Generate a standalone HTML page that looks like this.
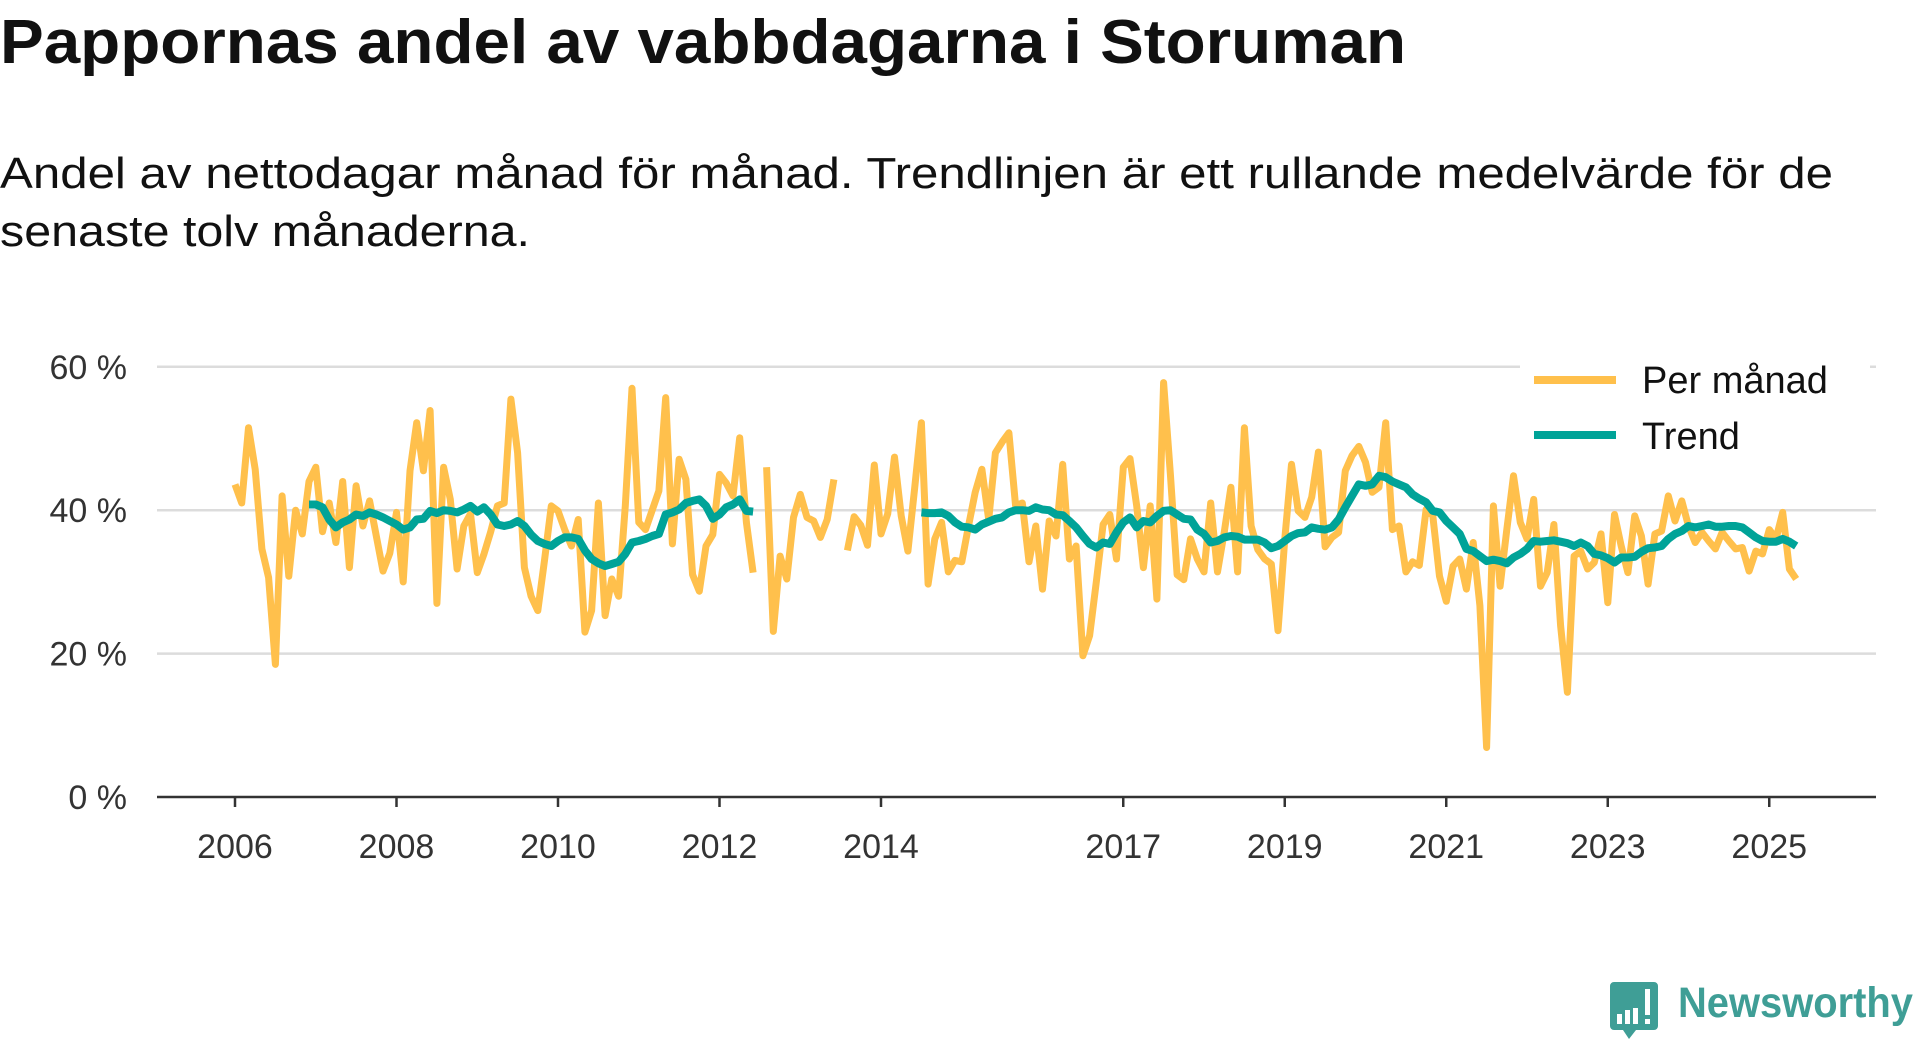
<!DOCTYPE html>
<html><head><meta charset="utf-8">
<style>
html,body{margin:0;padding:0;background:#fff;}
body{width:1920px;height:1040px;overflow:hidden;}
svg{display:block;font-family:"Liberation Sans","DejaVu Sans",sans-serif;}
</style></head>
<body>
<svg id="chart" width="1920" height="1040" viewBox="0 0 1920 1040">
  <text x="0" y="63" font-size="62" font-weight="bold" fill="#111" textLength="1406" lengthAdjust="spacingAndGlyphs">Pappornas andel av vabbdagarna i Storuman</text>
  <text x="0" y="188" font-size="44" fill="#111" textLength="1833" lengthAdjust="spacingAndGlyphs">Andel av nettodagar månad för månad. Trendlinjen är ett rullande medelvärde för de</text>
  <text x="0" y="246" font-size="44" fill="#111" textLength="530" lengthAdjust="spacingAndGlyphs">senaste tolv månaderna.</text>
  <g id="grid"></g>
  <g id="yaxis"></g>
  <g id="xaxis"></g>
  <g id="series"></g>
  <g id="legend">
    <rect x="1520" y="352" width="350" height="112" fill="#fff"/>
    <line x1="1534" y1="380" x2="1616" y2="380" stroke="#ffc04c" stroke-width="8"/>
    <text x="1642" y="393" font-size="38" fill="#111">Per månad</text>
    <line x1="1534" y1="435" x2="1616" y2="435" stroke="#00a398" stroke-width="8"/>
    <text x="1642" y="449" font-size="38" fill="#111">Trend</text>
  </g>
  <g>
    <path d="M1614 982 h40 a4 4 0 0 1 4 4 v40 a4 4 0 0 1 -4 4 h-18 l-7 9 l-6 -9 h-9 a4 4 0 0 1 -4 -4 v-40 a4 4 0 0 1 4 -4 z" fill="#3f9e96"/>
    <rect x="1617" y="1014" width="5" height="10" fill="#fff"/>
    <rect x="1625" y="1010" width="5" height="14" fill="#fff"/>
    <rect x="1633" y="1008" width="5" height="16" fill="#fff"/>
    <rect x="1645" y="989" width="5" height="26" fill="#fff"/>
    <rect x="1645" y="1019" width="5" height="5" fill="#fff"/>
    <text x="1678" y="1017" font-size="43" font-weight="bold" fill="#3f9e96" textLength="235" lengthAdjust="spacingAndGlyphs">Newsworthy</text>
  </g>
</svg>
<script>
// ---- data ----
const startYear = 2006;
const yTicks = [0, 20, 40, 60];
const yTickLabels = ["0 %", "20 %", "40 %", "60 %"];
const xTicks = [2006, 2008, 2010, 2012, 2014, 2017, 2019, 2021, 2023, 2025];
const xTickLabels = ["2006", "2008", "2010", "2012", "2014", "2017", "2019", "2021", "2023", "2025"];
const monthlyValues = [
43.6,41,51.5,45.7,34.6,30.6,18.5,42,30.8,40,36.7,44,
46,37,41,35.5,44,32,43.4,37.8,41.3,36.4,31.5,34,
39.7,30,45.5,52.2,45.5,53.9,27,46,41.5,31.8,37.8,39.5,
31.3,33.9,37,40.6,41,55.5,48,32,28,26,33,40.6,
39.9,37.3,35,38.7,23,26,41,25.3,30.4,28,40.6,57,
38.3,37.3,40,42.7,55.7,35.3,47.1,44.3,31,28.7,35,36.6,
45,43.8,42,50.1,38.3,31.3,null,
46,23.1,33.6,30.4,39,42.2,39,38.5,36.2,38.7,44.3,null,
34.4,39.1,37.9,35.1,46.3,36.7,39.5,47.4,39.2,34.3,43,52.2,
29.7,36,38.3,31.4,33,32.8,37.8,42.5,45.7,38.7,48,49.5,50.8,
40.6,41,32.8,37.8,29,38.5,36.4,46.4,33.2,35,19.7,22.5,
30,38,39.4,33.2,46,47.2,40.6,32,40.6,27.6,57.8,45,31,30.3,36,33.2,31.4,41,31.4,36.9,43.2,31.4,51.5,37.8,34.5,33.2,32.5,23.2,36,46.4,39.9,39,41.8,48.1,34.9,36.2,36.9,45.5,47.6,48.9,46.7,42.5,43.2,52.2,37.3,37.8,31.4,32.8,32.3,40.1,39.2,30.8,
27.3,32.2,33.2,29,35.5,26.7,6.9,40.6,29.4,37.3,44.8,38.3,36,41.5,29.4,31.3,38,23.9,14.6,33.6,34.3,31.8,32.7,36.7,27.1,39.4,35,31.3,39.2,36.4,29.7,36.7,37.1,42,38.5,41.3,37.8,35.5,36.9,35.7,34.6,36.9,35.7,34.6,34.8,31.5,34.3,33.9,37.3,36,39.7,31.8,30.4
];
const trendValues = [
null,null,null,null,null,null,null,null,null,null,null,
40.8,40.8,40.4,38.7,37.6,38.3,38.7,39.4,39.2,39.7,39.4,39,38.5,38,37.3,37.6,38.7,38.8,39.9,39.6,40,39.9,39.7,40.1,40.6,39.8,40.4,39.4,38,37.8,38,38.5,37.8,36.6,35.7,35.3,35,35.7,36.2,36.2,36,34.4,33.2,32.6,32.2,32.5,32.8,33.9,35.5,35.7,
36,36.4,36.7,39.4,39.7,40.1,41,41.3,41.5,40.6,38.8,39.4,40.4,40.8,41.5,39.9,39.8,
null,null,null,null,null,null,null,null,null,null,null,null,null,null,null,null,null,null,null,null,null,null,null,null,
39.7,39.6,39.6,39.7,39.2,38.3,37.7,37.6,37.3,38,38.4,38.8,39,39.7,40,40,39.9,40.4,
40.1,40,39.4,39.3,38.5,37.6,36.4,35.3,34.8,35.5,35.3,36.9,38.3,39,37.6,38.5,38.3,39.2,39.9,40,39.4,38.8,38.7,37.3,36.7,35.5,35.7,36.2,36.4,36.3,35.9,35.9,35.9,35.5,34.7,35,35.7,36.4,36.8,36.9,37.6,37.4,37.3,37.6,38.7,40.4,42,43.6,43.4,43.6,44.8,44.6,44,43.6,43.2,42.2,41.6,41.1,39.9,
39.7,38.5,37.6,36.7,34.6,34.3,33.6,32.9,33.1,32.9,32.6,33.4,33.9,34.6,35.7,35.6,35.7,35.8,35.6,35.4,35,35.5,35,33.9,33.7,33.3,32.7,33.4,33.4,33.5,34.2,34.7,34.8,35,36,36.7,37.1,37.8,37.6,37.8,38,37.7,37.7,37.8,37.8,37.6,36.9,36.2,35.7,35.6,35.6,36,35.6,35
];

// ---- scales ----
const X0 = 235, PX_PER_YEAR = 80.75;
const Y0 = 797, PX_PER_PCT = 7.17;
const PLOT_L = 157, PLOT_R = 1876;
function xScale(t){ return X0 + (t - startYear) * PX_PER_YEAR; }
function yScale(v){ return Y0 - v * PX_PER_PCT; }
const NS = "http://www.w3.org/2000/svg";
function mk(tag, attrs, parent){
  const el = document.createElementNS(NS, tag);
  for (const k in attrs) el.setAttribute(k, attrs[k]);
  parent.appendChild(el);
  return el;
}
const grid = document.getElementById("grid");
const yaxis = document.getElementById("yaxis");
const xaxis = document.getElementById("xaxis");
const series = document.getElementById("series");

yTicks.forEach((v, i) => {
  if (v !== 0) {
    const g = mk("line", {x1: PLOT_L, x2: PLOT_R, y1: yScale(v), y2: yScale(v), stroke: "#dcdcdc", "stroke-width": 2.5}, grid);
    
    
  }
  const t = mk("text", {x: 127, y: yScale(v) + 12, "font-size": 34, fill: "#333", "text-anchor": "end"}, yaxis);
  t.textContent = yTickLabels[i];
  
  
});
const axisLine = mk("line", {x1: PLOT_L, x2: PLOT_R, y1: Y0, y2: Y0, stroke: "#333", "stroke-width": 2.5}, xaxis);


xTicks.forEach((yr, i) => {
  const tk = mk("line", {x1: xScale(yr), x2: xScale(yr), y1: Y0, y2: Y0 + 10, stroke: "#333", "stroke-width": 2.5}, xaxis);
  
  
  const t = mk("text", {x: xScale(yr), y: 858, "font-size": 34, fill: "#333", "text-anchor": "middle"}, xaxis);
  t.textContent = xTickLabels[i];
  
  
});

function buildPath(vals){
  let d = "", pen = false;
  vals.forEach((v, i) => {
    if (v === null || v === undefined) { pen = false; return; }
    const x = xScale(startYear + i / 12).toFixed(1), y = yScale(v).toFixed(1);
    d += (pen ? "L" : "M") + x + " " + y + " ";
    pen = true;
  });
  return d;
}
const monthlyLine = mk("path", {d: buildPath(monthlyValues), fill: "none", stroke: "#ffc04c", "stroke-width": 7, "stroke-linejoin": "round"}, series);


const trendLine = mk("path", {d: buildPath(trendValues), fill: "none", stroke: "#00a398", "stroke-width": 8, "stroke-linejoin": "round"}, series);


</script>
</body></html>
